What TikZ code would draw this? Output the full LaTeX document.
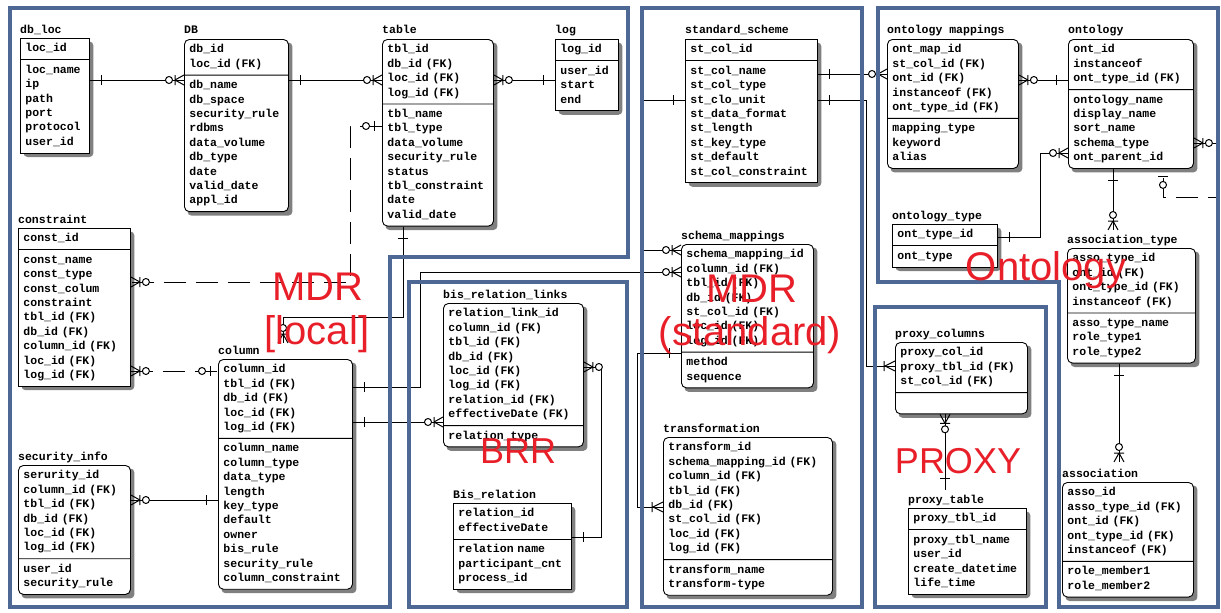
\documentclass[tikz,border=0pt]{standalone}
\usepackage{fontspec}
\newfontfamily\erfont{Liberation Mono}
\newfontfamily\lblfont{Liberation Sans}
\usetikzlibrary{shapes.multipart,decorations.markings}
\definecolor{frameblue}{RGB}{78,104,150}
\definecolor{lblred}{RGB}{232,30,40}
\pgfdeclarelayer{backdrop}
\pgfdeclarelayer{shadowlayer}
\pgfsetlayers{backdrop,shadowlayer,main}
\newcommand\erf{\erfont\bfseries\fontsize{11.5}{14.4}\selectfont}
\newcommand\symone{\draw[solid] (-12pt,-5pt) -- (-12pt,5pt);}
\newcommand\symzmany{\draw[solid] (-9pt,0pt) -- (0pt,5pt) (-9pt,0pt) -- (0pt,-5pt) (-9pt,-5pt) -- (-9pt,5pt);
  \draw[solid,fill=white] (-15pt,0pt) circle (3.5pt);}
\newcommand\symzone{\draw[solid] (-8pt,-5pt) -- (-8pt,5pt); \draw[solid,fill=white] (-16pt,0pt) circle (3.5pt);}
\newcommand\symomany{\draw[solid] (-10pt,0pt) -- (0pt,5pt) (-10pt,0pt) -- (0pt,-5pt) (-11pt,-5pt) -- (-11pt,5pt);}
\newcommand\symnone{}
\tikzset{
  ent/.style={rectangle split, rectangle split parts=2, draw, line width=0.9pt, fill=white,
    align=left, inner xsep=5pt, inner ysep=3pt, anchor=north west, font=\erf},
  went/.style={ent, rounded corners=5pt},
  etitle/.style={anchor=base west, inner sep=0pt, font=\erf},
  shadowfill/.style={fill=black!50, rounded corners=4pt},
  lbl/.style={anchor=base, inner sep=0pt, text=lblred},
  bigl/.style={lbl, font=\lblfont\fontsize{40}{40}\selectfont},
  midl/.style={lbl, font=\lblfont\fontsize{36}{36}\selectfont},
  regionbox/.style={draw=frameblue, line width=4pt},
  conn/.style={draw, line width=1pt},
  dconn/.style={dash pattern=on 22pt off 10pt},
  rel/.style 2 args={
    postaction={decorate,decoration={markings,mark=at position 0 with {\begin{scope}[xscale=-1]\csname sym#1\endcsname\end{scope}}}},
    postaction={decorate,decoration={markings,mark=at position 0.99999 with {\csname sym#2\endcsname}}}}
}
\begin{document}
\begin{tikzpicture}[x=1pt,y=-1pt]
\useasboundingbox (0,0) rectangle (1221,613);
\begin{pgfonlayer}{backdrop}
\fill[white] (0,0) rectangle (1221,613);
\end{pgfonlayer}

% ---------- entities ----------
\node[ent, text width=59pt] (dbloc) at (20,38) {\strut loc\_id\strut\nodepart{two}\strut loc\_name\\ip\\path\\port\\protocol\\user\_id\strut};
\node[etitle] (dbloct) at ([yshift=5pt]dbloc.north west) {db\_loc};

\node[went, text width=94pt] (DB) at (184,39) {\strut db\_id\\loc\_id (FK)\strut\nodepart{two}\strut db\_name\\db\_space\\security\_rule\\rdbms\\data\_volume\\db\_type\\date\\valid\_date\\appl\_id\strut};
\node[etitle] (DBt) at ([yshift=5pt]DB.north west) {DB};

\node[went, text width=101pt] (tbl) at (382,39) {\strut tbl\_id\\db\_id (FK)\\loc\_id (FK)\\log\_id (FK)\strut\nodepart{two}\strut tbl\_name\\tbl\_type\\data\_volume\\security\_rule\\status\\tbl\_constraint\\date\\valid\_date\strut};
\node[etitle] (tblt) at ([yshift=5pt]tbl.north west) {table};

\node[ent, text width=53pt] (log) at (555,39) {\strut log\_id\strut\nodepart{two}\strut user\_id\\start\\end\strut};
\node[etitle] (logt) at ([yshift=5pt]log.north west) {log};

\node[ent, text width=102pt] (constr) at (18,228) {\strut const\_id\strut\nodepart{two}\strut const\_name\\const\_type\\const\_colum\\constraint\\tbl\_id (FK)\\db\_id (FK)\\column\_id (FK)\\loc\_id (FK)\\log\_id (FK)\strut};
\node[etitle] (constrt) at ([yshift=5pt]constr.north west) {constraint};

\node[went, text width=124pt] (column) at (218,359) {\strut column\_id\\tbl\_id (FK)\\db\_id (FK)\\loc\_id (FK)\\log\_id (FK)\strut\nodepart{two}\strut column\_name\\column\_type\\data\_type\\length\\key\_type\\default\\owner\\bis\_rule\\security\_rule\\column\_constraint\strut};
\node[etitle] (columnt) at ([yshift=5pt]column.north west) {column};

\node[went, text width=102pt] (secinfo) at (18,465) {\strut serurity\_id\\column\_id (FK)\\tbl\_id (FK)\\db\_id (FK)\\loc\_id (FK)\\log\_id (FK)\strut\nodepart{two}\strut user\_id\\security\_rule\strut};
\node[etitle] (secinfot) at ([yshift=5pt]secinfo.north west) {security\_info};

\node[went, text width=130pt] (bisl) at (443,303) {\strut relation\_link\_id\\column\_id (FK)\\tbl\_id (FK)\\db\_id (FK)\\loc\_id (FK)\\log\_id (FK)\\relation\_id (FK)\\effectiveDate (FK)\strut\nodepart{two}\strut relation\_type\strut};
\node[etitle] (bislt) at ([yshift=5pt]bisl.north west) {bis\_relation\_links};

\node[ent, text width=108pt] (bisrel) at (453,503) {\strut relation\_id\\effectiveDate\strut\nodepart{two}\strut relation name\\participant\_cnt\\process\_id\strut};
\node[etitle] (bisrelt) at ([yshift=5pt]bisrel.north west) {Bis\_relation};

\node[ent, text width=122pt] (std) at (685,39) {\strut st\_col\_id\strut\nodepart{two}\strut st\_col\_name\\st\_col\_type\\st\_clo\_unit\\st\_data\_format\\st\_length\\st\_key\_type\\st\_default\\st\_col\_constraint\strut};
\node[etitle] (stdt) at ([yshift=5pt]std.north west) {standard\_scheme};

\node[went, text width=122pt] (schm) at (681,244) {\strut schema\_mapping\_id\\column\_id (FK)\\tbl\_id (FK)\\db\_id (FK)\\st\_col\_id (FK)\\loc\_id (FK)\\log\_id (FK)\strut\nodepart{two}\strut method\\sequence\strut};
\node[etitle] (schmt) at ([yshift=5pt]schm.north west) {schema\_mappings};

\node[went, text width=159pt] (trans) at (663,437) {\strut transform\_id\\schema\_mapping\_id (FK)\\column\_id (FK)\\tbl\_id (FK)\\db\_id (FK)\\st\_col\_id (FK)\\loc\_id (FK)\\log\_id (FK)\strut\nodepart{two}\strut transform\_name\\transform-type\strut};
\node[etitle] (transt) at ([yshift=5pt]trans.north west) {transformation};

\node[went, text width=121pt] (ontmap) at (887,39) {\strut ont\_map\_id\\st\_col\_id (FK)\\ont\_id (FK)\\instanceof (FK)\\ont\_type\_id (FK)\strut\nodepart{two}\strut mapping\_type\\keyword\\alias\strut};
\node[etitle] (ontmapt) at ([yshift=5pt]ontmap.north west) {ontology mappings};

\node[went, text width=115pt] (onto) at (1068,39) {\strut ont\_id\\instanceof\\ont\_type\_id (FK)\strut\nodepart{two}\strut ontology\_name\\display\_name\\sort\_name\\schema\_type\\ont\_parent\_id\strut};
\node[etitle] (ontot) at ([yshift=5pt]onto.north west) {ontology};

\node[ent, text width=95pt] (otype) at (892,224) {\strut ont\_type\_id\strut\nodepart{two}\strut ont\_type\strut};
\node[etitle] (otypet) at ([yshift=5pt]otype.north west) {ontology\_type};

\node[went, text width=118pt] (asst) at (1067,248) {\strut asso\_type\_id\\ont\_id (FK)\\ont\_type\_id (FK)\\instanceof (FK)\strut\nodepart{two}\strut asso\_type\_name\\role\_type1\\role\_type2\strut};
\node[etitle] (asstt) at ([yshift=5pt]asst.north west) {association\_type};

\node[went, text width=121pt] (assoc) at (1062,482) {\strut asso\_id\\asso\_type\_id (FK)\\ont\_id (FK)\\ont\_type\_id (FK)\\instanceof (FK)\strut\nodepart{two}\strut role\_member1\\role\_member2\strut};
\node[etitle] (assoct) at ([yshift=5pt]assoc.north west) {association};

\node[went, text width=122pt] (pcol) at (895,342) {\strut proxy\_col\_id\\proxy\_tbl\_id (FK)\\st\_col\_id (FK)\strut\nodepart{two}\strut};
\node[etitle] (pcolt) at ([yshift=5pt]pcol.north west) {proxy\_columns};

\node[ent, text width=108pt] (ptbl) at (908,508) {\strut proxy\_tbl\_id\strut\nodepart{two}\strut proxy\_tbl\_name\\user\_id\\create\_datetime\\life\_time\strut};
\node[etitle] (ptblt) at ([yshift=5pt]ptbl.north west) {proxy\_table};

% ---------- entity shadows ----------
\begin{pgfonlayer}{shadowlayer}
\foreach \e in {dbloc,DB,tbl,log,constr,column,secinfo,bisl,bisrel,std,schm,trans,ontmap,onto,otype,asst,assoc,pcol,ptbl}
  \fill[shadowfill] ([xshift=3.5pt,yshift=-3.5pt]\e.south west) rectangle ([xshift=3.5pt,yshift=-3.5pt]\e.north east);
\end{pgfonlayer}

% ---------- connectors ----------
\draw[conn, rel={one}{zmany}] ([yshift=-42pt]dbloc.north east) -- ([yshift=-41pt]DB.north west);
\draw[conn, rel={one}{zmany}] ([yshift=-41pt]DB.north east) -- ([yshift=-41pt]tbl.north west);
\draw[conn, rel={zmany}{one}] ([yshift=-41pt]tbl.north east) -- ([yshift=-41pt]log.north west);
\draw[conn, dconn, rel={zone}{zmany}] ([yshift=-87pt]tbl.north west) -- ++(-32pt,0pt) |- ([yshift=-54pt]constr.north east);
\draw[conn, dconn, rel={zmany}{zone}] ([yshift=-143pt]constr.north east) -- ([yshift=-12pt]column.north west);
\draw[conn, rel={zmany}{one}] ([yshift=-35pt]secinfo.north east) -- ([yshift=-141pt]column.north west);
\draw[conn, rel={one}{zmany}] ([xshift=21pt]tbl.south west) -- ++(0pt,-91pt) -| ([xshift=65pt,yshift=16pt]column.north west);
\draw[conn, rel={one}{zmany}] ([yshift=-28pt]column.north east) -- ++(68pt,0pt) |- ([yshift=-28pt]schm.north west);
\draw[conn, rel={one}{zmany}] ([yshift=-63pt]column.north east) -- ([yshift=-119pt]bisl.north west);
\draw[conn, rel={one}{zmany}] ([yshift=-34pt]bisrel.north east) -- ++(30pt,0pt) |- ([yshift=-64pt]bisl.north east);
\draw[conn, rel={one}{omany}] ([yshift=-109pt]schm.north west) -- ++(-44pt,0pt) |- ([yshift=-70pt]trans.north west);
\draw[conn, rel={one}{zmany}] ([yshift=-35pt]std.north east) -- ([yshift=-35pt]ontmap.north west);
\draw[conn, rel={one}{omany}] ([yshift=-61pt]std.north east) -- ++(49pt,0pt) |- ([yshift=-24pt]pcol.north west);
\draw[conn, rel={one}{zmany}] ([yshift=-61pt]std.north west) -- ++(-42pt,0pt) |- ([yshift=-6pt]schm.north west);
\draw[conn, rel={zmany}{one}] ([yshift=-41pt]ontmap.north east) -- ([yshift=-41pt]onto.north west);
\draw[conn, rel={one}{zmany}] ([yshift=-13pt]otype.north east) -- ++(43pt,0pt) |- ([yshift=-114pt]onto.north west);
\draw[conn, rel={one}{zmany}] ([xshift=45pt]onto.south west) -- ([xshift=46pt,yshift=18pt]asst.north west);
\draw[conn, dconn, rel={zmany}{zone}] ([yshift=-104pt]onto.north east) -- ++(23pt,0pt) -- ++(0pt,-54pt) -| ([xshift=95pt]onto.south west);
\draw[conn, rel={one}{zmany}] ([xshift=52pt]asst.south west) -- ([xshift=57pt,yshift=20pt]assoc.north west);
\draw[conn, rel={zmany}{one}] ([xshift=50pt]pcol.south west) -- ([xshift=37pt,yshift=18pt]ptbl.north west);

% ---------- region frames ----------
\draw[regionbox] (10,8) -- (628,8) -- (628,257) -- (390,257) -- (390,607) -- (10,607) -- cycle;
\draw[regionbox] (409,282) rectangle (627,607);
\draw[regionbox] (642,8) rectangle (862,607);
\draw[regionbox] (878,8) -- (1218,8) -- (1218,607) -- (1059,607) -- (1059,282) -- (878,282) -- cycle;
\draw[regionbox] (875,307) rectangle (1046,607);

% ---------- region labels ----------
\node[bigl] (lmdr) at (318,300) {MDR};
\node[bigl] (llocal) at (317,344) {[local]};
\node[midl] (lbrr) at (518,463) {BRR};
\node[bigl] (lmdrs) at (752,302) {MDR};
\node[bigl] (lstd) at (750,345) {(standard)};
\node[bigl] (lonto) at (1046,280) {Ontology};
\node[midl] (lproxy) at (958,473) {PROXY};
\end{tikzpicture}
\end{document}
